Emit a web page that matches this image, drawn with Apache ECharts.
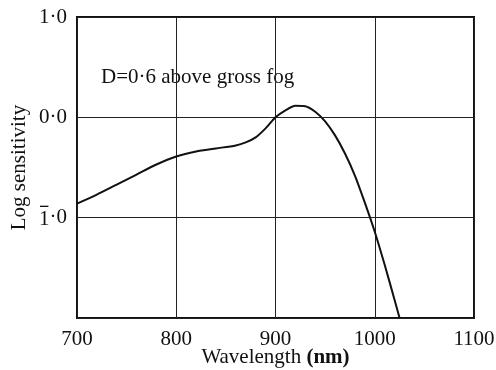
<!DOCTYPE html>
<html>
<head>
<meta charset="utf-8">
<script src="https://cdn.jsdelivr.net/npm/echarts@6/dist/echarts.min.js"></script>
<style>
  html, body { margin: 0; padding: 0; background: #fff; }
  #chart { width: 496px; height: 370px; }
</style>
</head>
<body>
<div id="chart"></div>
<script>
// wavelength (nm) and log sensitivity
const wavelengths = [700, 720, 740, 760, 780, 800, 820, 840, 860, 870, 880, 890, 900, 910, 920, 930, 940, 950, 960, 970, 980, 990, 1000, 1010, 1020, 1025]
const logSens = [-0.86, -0.77, -0.67, -0.57, -0.47, -0.39, -0.34, -0.31, -0.28, -0.25, -0.2, -0.11, 0.0, 0.07, 0.115, 0.11, 0.055, -0.04, -0.18, -0.36, -0.58, -0.85, -1.14, -1.47, -1.82, -2.0]
// bar-one notation for -1
const yTickLabels = { "1": "1·0", "0": "0·0", "-1": "{m|1}·0", "-2": "" }
const note = "D=0·6 above gross fog"

const font = "'Liberation Serif', 'DejaVu Serif', serif"

// little overbar used as background of the "1" in the -1 label
const bar = document.createElement("canvas")
bar.width = 20
bar.height = 60
const bctx = bar.getContext("2d")
bctx.fillStyle = "#111"
bctx.fillRect(2, 0, 16, 4)

const chart = echarts.init(document.getElementById("chart"))

const option = {
  animation: false,
  grid: {
    left: 77,
    right: 22,
    top: 17,
    bottom: 52,
    outerBoundsMode: "none",
    show: true,
    borderColor: "#111",
    borderWidth: 2,
  },
  graphic: [{
    type: "text",
    left: 101,
    top: 67,
    style: {
      text: note,
      fontFamily: font,
      fontSize: 21,
      fill: "#111",
    },
  }],
  xAxis: {
    type: "value",
    min: 700,
    max: 1100,
    interval: 100,
    name: "Wavelength {b|(nm)}",
    nameLocation: "middle",
    nameGap: 29,
    nameMoveOverlap: false,
    nameTextStyle: {
      fontFamily: font,
      fontSize: 21,
      color: "#111",
      rich: {
        b: { fontFamily: font, fontSize: 21, fontWeight: "bold", color: "#111" },
      },
    },
    axisLine: { show: false },
    axisTick: { show: false },
    axisLabel: {
      fontFamily: font,
      fontSize: 21,
      color: "#111",
      margin: 11,
      formatter: (v) => String(v),
    },
    splitLine: { lineStyle: { color: "#222", width: 1 } },
  },
  yAxis: {
    type: "value",
    min: -2,
    max: 1,
    interval: 1,
    name: "Log sensitivity",
    nameLocation: "middle",
    nameGap: 47,
    nameMoveOverlap: false,
    nameTextStyle: { fontFamily: font, fontSize: 21, color: "#111" },
    axisLine: { show: false },
    axisTick: { show: false },
    axisLabel: {
      fontFamily: font,
      fontSize: 21,
      color: "#111",
      margin: 10,
      formatter: (v) => yTickLabels[String(v)] ?? "",
      rich: {
        m: {
          fontFamily: font,
          fontSize: 21,
          color: "#111",
          backgroundColor: { image: bar },
          padding: [3, 0, 0, 0],
        },
      },
    },
    splitLine: { lineStyle: { color: "#222", width: 1 } },
  },
  series: [{
    type: "line",
    data: wavelengths.map((w, i) => [w, logSens[i]]),
    smooth: 0.25,
    showSymbol: false,
    lineStyle: { color: "#111", width: 2 },
  }],
}

chart.setOption(option)
</script>
</body>
</html>
